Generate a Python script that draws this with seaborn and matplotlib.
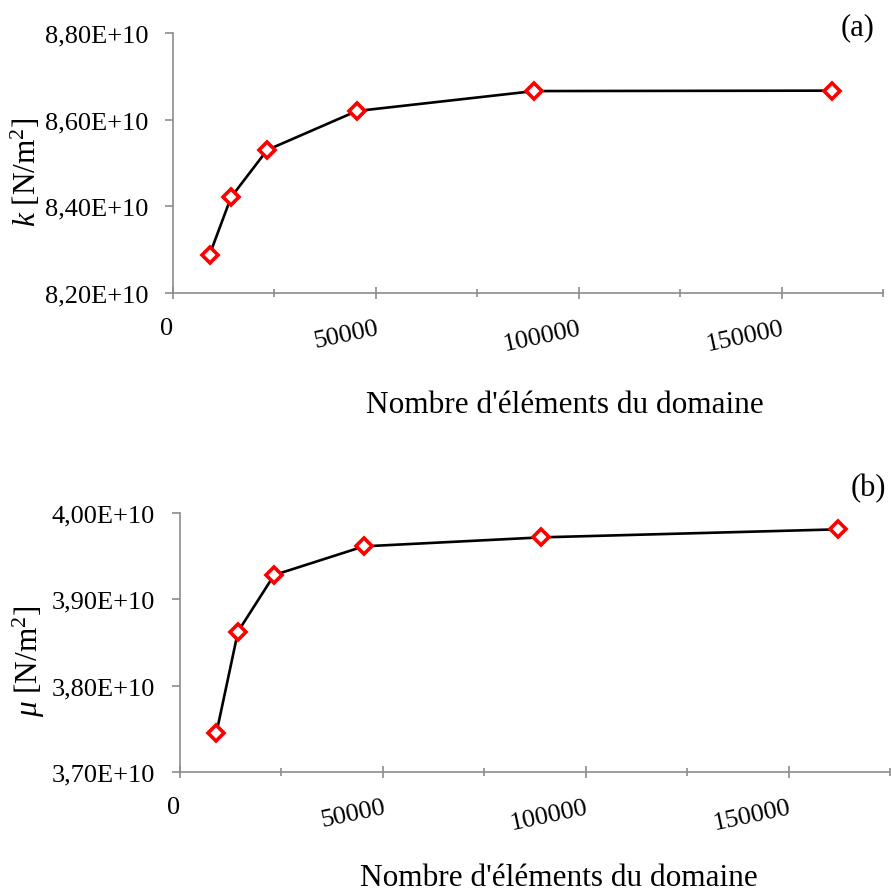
import matplotlib
matplotlib.use("Agg")
import matplotlib.pyplot as plt
import seaborn as sns
from matplotlib.ticker import MultipleLocator, FuncFormatter

# données
n_elements = [9000, 14300, 23200, 45300, 89000, 162300]
k_vals = [8.288e10, 8.421e10, 8.530e10, 8.620e10, 8.666e10, 8.667e10]
mu_vals = [3.7456e10, 3.8624e10, 3.9278e10, 3.9610e10, 3.9714e10, 3.9807e10]

k_ticks = [8.2e10, 8.4e10, 8.6e10, 8.8e10]
mu_ticks = [3.7e10, 3.8e10, 3.9e10, 4.0e10]

sns.set_theme(style="white")
plt.rcParams["font.family"] = ["Liberation Serif", "DejaVu Serif"]
plt.rcParams["mathtext.fontset"] = "custom"
plt.rcParams["mathtext.rm"] = "Liberation Serif"
plt.rcParams["mathtext.it"] = "Liberation Serif:italic"
plt.rcParams["text.color"] = "black"
plt.rcParams["axes.labelcolor"] = "black"
plt.rcParams["xtick.labelcolor"] = "black"
plt.rcParams["ytick.labelcolor"] = "black"

gris = "#8c8c8c"

fig = plt.figure(figsize=(8.91, 8.95), dpi=100)
ax1 = fig.add_axes([0.1942, 0.6715, 0.7969, 0.2905])
ax2 = fig.add_axes([0.2020, 0.1363, 0.7969, 0.2898])


def fmt_y(v, pos):
    return f"{v/1e10:.2f}".replace(".", ",") + "E+10"


def tracer(ax, y, yticks, ylabel, lab_x, lab_y, xlab_x, xlab_y):
    sns.lineplot(x=n_elements, y=y, ax=ax, color="black", linewidth=1.9,
                 marker="D", markersize=8, markerfacecolor="white",
                 markeredgecolor="red", markeredgewidth=2.6, zorder=3)
    ax.set_xlim(0, 175000)
    ax.set_ylim(yticks[0], yticks[-1])
    ax.set_yticks(yticks)
    ax.yaxis.set_major_formatter(FuncFormatter(fmt_y))
    ax.xaxis.set_major_locator(MultipleLocator(50000))
    ax.xaxis.set_minor_locator(MultipleLocator(25000))
    ax.xaxis.set_major_formatter(FuncFormatter(lambda v, p: f"{int(v)}"))
    for s in ["top", "right"]:
        ax.spines[s].set_visible(False)
    for s in ["left", "bottom"]:
        ax.spines[s].set_color(gris)
        ax.spines[s].set_linewidth(1.2)
    ax.tick_params(axis="y", direction="out", length=6, width=1.2, color=gris,
                   labelsize=19, pad=12, left=True)
    ax.tick_params(axis="x", which="major", direction="inout", length=8, width=1.2,
                   color=gris, labelsize=19, pad=13, bottom=True)
    ax.tick_params(axis="x", which="minor", direction="inout", length=6, width=1.2,
                   color=gris, bottom=True)
    for t in ax.get_xticklabels():
        if t.get_text() != "0":
            t.set_rotation(12)
        t.set_ha("right")
        t.set_va("top")
        t.set_rotation_mode("anchor")
    ax.set_xlabel("Nombre d'éléments du domaine", fontsize=22.5)
    ax.xaxis.set_label_coords(xlab_x, xlab_y)
    ax.set_ylabel(ylabel, fontsize=22.5)
    ax.yaxis.set_label_coords(lab_x, lab_y)
    ax.grid(False)


tracer(ax1, k_vals, k_ticks, r"$k$ [N/m$^2$]", -0.183, 0.47, 0.552, -0.372)
tracer(ax2, mu_vals, mu_ticks, r"$\mu$ [N/m$^2$]", -0.187, 0.43, 0.534, -0.352)

fig.text(0.982, 0.985, "(a)", ha="right", va="top", fontsize=22)
fig.text(0.994, 0.470, "(b)", ha="right", va="top", fontsize=22)

fig.savefig("out.png", dpi=100)
